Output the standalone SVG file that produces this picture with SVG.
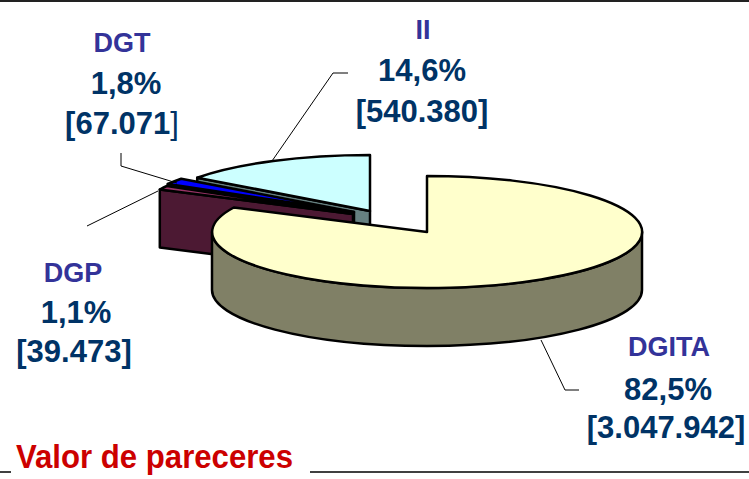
<svg xmlns="http://www.w3.org/2000/svg" width="749" height="479" viewBox="0 0 749 479">
<style>
.s{stroke:#000;stroke-width:2.5;stroke-linejoin:round}
.lead{stroke:#000;stroke-width:1;fill:none}
.name{font-family:"Liberation Sans",Arial,sans-serif;font-weight:bold;font-size:27px;fill:#333399;text-anchor:middle}
.val{font-family:"Liberation Sans",Arial,sans-serif;font-weight:bold;font-size:31px;fill:#003366;text-anchor:middle}
</style>
<rect width="749" height="479" fill="#fff"/>
<line x1="0" y1="1" x2="749" y2="1" stroke="#222" stroke-width="2"/>
<g id="slice-II">
<path class="s" fill="#668080" d="M197.2,177.7 L370,211 L370,269 L197.2,235.7 Z"/>
<path class="s" fill="#CCFFFF" d="M370,211 L197.2,177.7 A215 56 0 0 1 370,155 Z"/>
</g>
<g id="slice-DGT">
<path class="s" fill="#000080" d="M167.8,184 L354,212 L354,270 L167.8,242 Z"/>
<path class="s" fill="#0000FF" d="M354,212 L167.8,184 A215 56 0 0 1 181.2,178.7 Z"/>
</g>
<g id="slice-DGP">
<path class="s" fill="#4C1933" d="M159.8,189.5 L353,214 L353,272 L159.8,247.5 Z"/>
<path class="s" fill="#993366" d="M353,214 L159.8,189.5 A215 56 0 0 1 166.8,186 Z"/>
</g>
<g id="slice-DGITA">
<path class="s" fill="#808066" d="M212,232 A215 56 0 0 0 642,232 L642,290 A215 56 0 0 1 212,290 Z"/>
<path class="s" fill="#FFFFCC" d="M427,232 L427,176 A215 56 0 1 1 233.8,207.5 Z"/>
</g>
<g id="connectors">
<polyline class="lead" points="348,73 333,73 272,161"/>
<polyline class="lead" points="121,153 121,166 177,183"/>
<polyline class="lead" points="87,226 158,191"/>
<polyline class="lead" points="541,340 565,390 579,390"/>
</g>
<g id="label-II">
<text class="name" x="423" y="39">II</text>
<text class="val" x="422" y="81">14,6%</text>
<text class="val" x="422" y="122">[540.380]</text>
</g>
<g id="label-DGT">
<text class="name" x="122" y="52">DGT</text>
<text class="val" x="126" y="94">1,8%</text>
<text class="val" x="122" y="134">[67.071<tspan font-weight="normal">]</tspan></text>
</g>
<g id="label-DGP">
<text class="name" x="73" y="282">DGP</text>
<text class="val" x="76" y="323">1,1%</text>
<text class="val" x="74" y="362">[39.473]</text>
</g>
<g id="label-DGITA">
<text class="name" x="669" y="356">DGITA</text>
<text class="val" x="668" y="400">82,5%</text>
<text class="val" x="666" y="438">[3.047.942]</text>
</g>
<g id="title">
<line x1="0" y1="472" x2="11" y2="472" stroke="#000" stroke-width="1.5"/>
<line x1="310" y1="472" x2="749" y2="472" stroke="#000" stroke-width="1.5"/>
<text x="16" y="468" font-family="'Liberation Sans',Arial,sans-serif" font-weight="bold" font-size="34" fill="#CC0000" textLength="277" lengthAdjust="spacingAndGlyphs">Valor de pareceres</text>
</g>
</svg>
